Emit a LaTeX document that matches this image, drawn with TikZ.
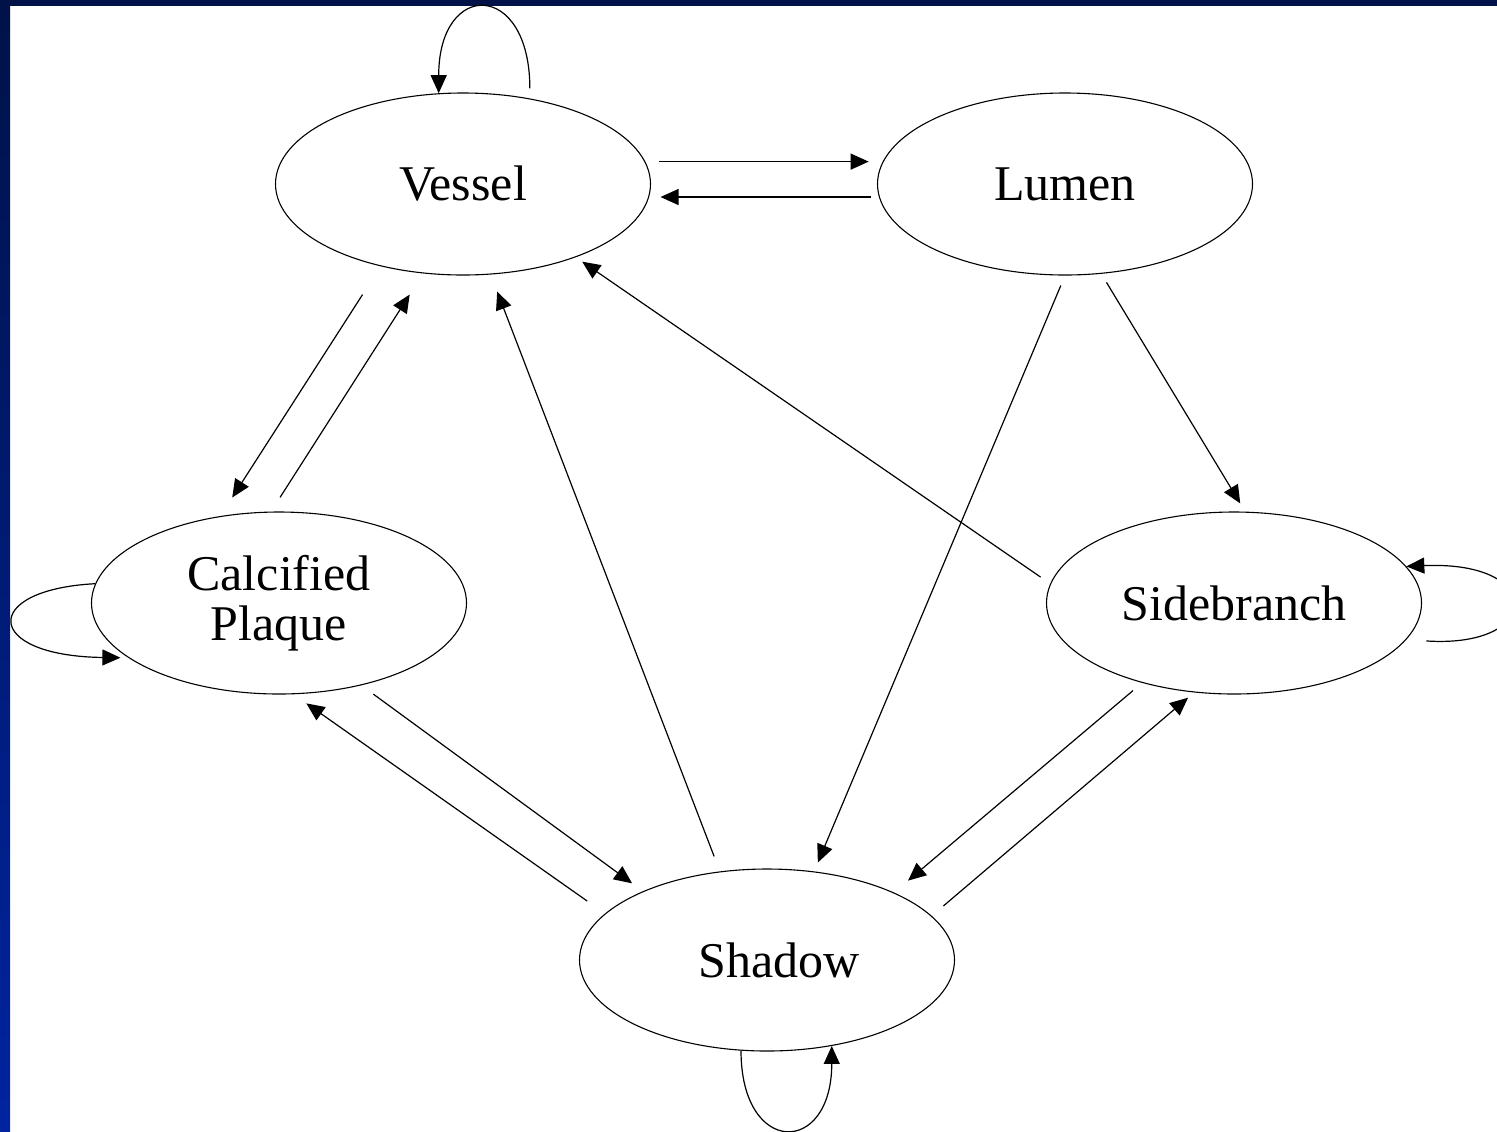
\documentclass[tikz,border=0pt]{standalone}
\usepackage{fontspec}
\setmainfont{Liberation Serif}
\usetikzlibrary{arrows.meta,shapes.geometric}
\definecolor{navytop}{RGB}{0,18,72}
\definecolor{bluebot}{RGB}{0,36,160}
\tikzset{
  state/.style={ellipse, draw=black, line width=0.55pt, inner sep=0pt,
    minimum width=187.5pt, minimum height=91pt,
    font=\fontsize{25}{25}\selectfont, align=center},
  link/.style={draw=black, line width=0.6pt,
    -{Triangle[length=9pt,width=8pt]}},
}
\begin{document}
\begin{tikzpicture}[x=0.5pt,y=-0.5pt]
\useasboundingbox (0,0) rectangle (1497,1131);
\begin{scope}
\clip (0,0) rectangle (1497,1131);
% slide frame
\fill[white] (0,0) rectangle (1497,1131);
\fill[navytop] (0,0) rectangle (1497,6);
\shade[top color=navytop, bottom color=bluebot] (0,0) rectangle (10,1131);

% states
\node[state] (vessel) at (463,184) {Vessel};
\node[state] (lumen)  at (1065,184) {Lumen};
\node[state] (calc)   at (279,603) {Calcified\\Plaque};
\node[state] (side)   at (1234,603) {Sidebranch};
\node[state] (shadow) at (767,960) {\hspace*{12pt}Shadow};

% transitions
\draw[link, shorten <=7pt, shorten >=7pt] (vessel.7.7) -- (lumen.173.1);
\draw[link, shorten <=3.7pt, shorten >=5.7pt] (lumen.184) -- (vessel.-4);
\draw[link, shorten <=16.8pt, shorten >=11pt] (vessel.-135.5) -- (calc.124.2);
\draw[link, shorten <=8.4pt, shorten >=12.5pt] (calc.95) -- (vessel.-114);
\draw[link, shorten <=8pt, shorten >=9.1pt] (shadow.118) -- (vessel.-73);
\draw[link, shorten <=5.8pt, shorten >=3.9pt] (side.174.9) -- (vessel.-33.6);
\draw[link, shorten <=5.4pt, shorten >=4.8pt] (lumen.-90.5) -- (shadow.62.6);
\draw[link, shorten <=5pt, shorten >=4.8pt] (lumen.-68.2) -- (side.83.2);
\draw[link, shorten <=7.5pt, shorten >=6.7pt] (calc.-45.4) -- (shadow.151.7);
\draw[link, shorten <=10.9pt, shorten >=7.9pt] (shadow.164.9) -- (calc.-81.8);
\draw[link, shorten <=6pt, shorten >=9.2pt] (side.-139.2) -- (shadow.28.4);
\draw[link, shorten <=7.6pt, shorten >=4pt] (shadow.15.4) -- (side.-114.7);

% self loops
\draw[link, shorten <=5pt] (vessel.52.7)
  .. controls +(0,-118) and +(0,-114) .. (vessel.105.5);
\draw[link, shorten >=4pt] (calc.174.1)
  .. controls +(-115,6) and +(-145.5,-2) .. (calc.200.5);
\draw[link, shorten <=10pt] (side.-12.2)
  .. controls +(136.5,9) and +(140,-6) .. (side.12.2);
\draw[link] (shadow.-106.5)
  .. controls +(0,106) and +(0,110.5) .. (shadow.-53.5);
\end{scope}
\end{tikzpicture}
\end{document}
